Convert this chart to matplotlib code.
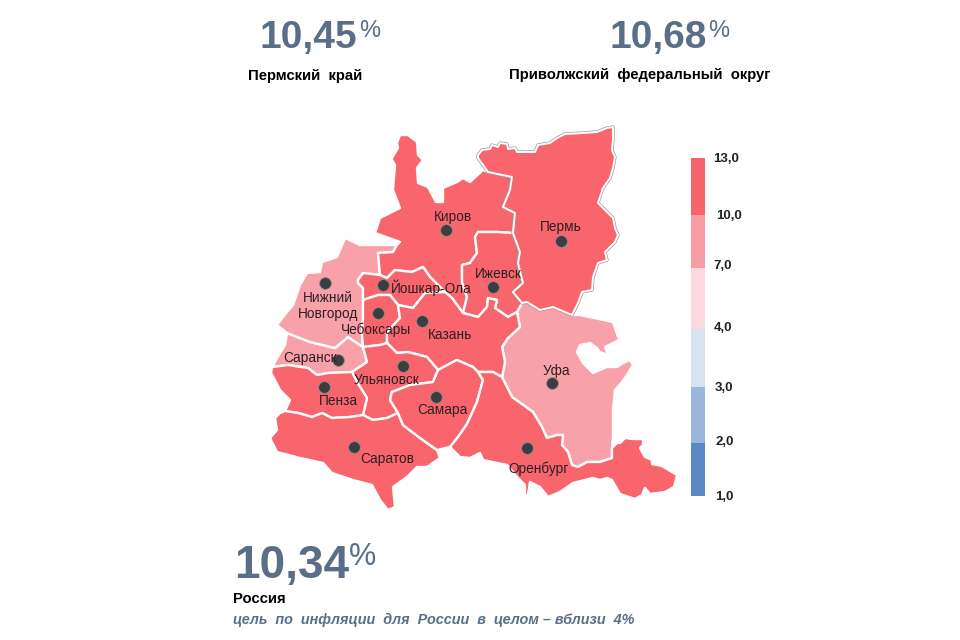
import matplotlib
matplotlib.use("Agg")
import matplotlib.pyplot as plt
from matplotlib.patches import Polygon

plt.rcParams['font.family'] = ['Liberation Sans', 'DejaVu Sans']

# region outlines in pixels; neighbours share their border points
perm = [(478,155),(482,150),(490,149),(492,145),(498,147),(500,143),(507,144),(508,149),(515,148),(517,152),(535,152),(538,145),(550,143),(557,138),(565,134),(583,133),(597,132),(607,128),(613,127),(613,140),(612,150),(615,157),(613,168),(610,178),(603,188),(598,203),(607,212),(613,218),(615,228),(618,235),(615,242),(605,252),(607,260),(598,263),(593,277),(592,290),(582,292),(578,303),(572,315),(553,307),(540,310),(527,302),(522,303),(513,292),(523,283),(518,263),(520,252),(513,233),(515,213),(503,207),(510,190),(512,177),(488,172),(478,158)]
kirov = [(400,135),(408,135),(417,142),(418,155),(423,160),(417,168),(418,183),(428,187),(436,202),(443,202),(443,188),(457,182),(463,178),(470,182),(483,170),(488,172),(512,177),(510,190),(503,207),(515,213),(513,233),(497,232),(478,232),(475,237),(477,253),(470,263),(462,265),(462,282),(467,297),(463,313),(452,298),(445,292),(430,277),(423,267),(412,272),(395,270),(387,278),(380,275),(378,253),(393,252),(397,245),(400,242),(375,233),(380,218),(400,208),(393,190),(395,165),(392,160),(383,160),(392,158),(398,148),(397,143)]
udmurtia = [(478,232),(497,232),(513,233),(520,252),(518,263),(523,283),(513,292),(522,303),(517,312),(508,317),(495,308),(497,300),(488,298),(487,307),(478,317),(463,313),(467,297),(462,282),(462,265),(470,263),(477,253),(475,237)]
mari_el = [(358,280),(363,273),(380,275),(387,278),(395,270),(412,272),(423,267),(430,277),(445,292),(425,293),(413,308),(398,305),(390,295),(378,295),(363,300),(363,288),(358,283)]
chuvashia = [(363,300),(378,295),(390,295),(398,305),(400,318),(387,332),(387,343),(380,345),(363,347),(362,335),(363,318)]
tatarstan = [(400,318),(398,305),(413,308),(425,293),(445,292),(452,298),(463,313),(478,317),(487,307),(488,298),(497,300),(495,308),(508,317),(517,312),(520,327),(508,338),(502,347),(505,362),(502,377),(493,372),(478,372),(473,367),(457,360),(453,362),(438,370),(427,357),(408,352),(397,353),(387,343),(387,332)]
ulyanovsk = [(363,347),(380,345),(387,343),(397,353),(408,352),(427,357),(438,370),(433,382),(410,385),(392,392),(390,400),(398,413),(387,418),(373,420),(363,415),(367,398),(357,382),(352,372),(367,362)]
mordovia = [(287,333),(310,342),(335,348),(348,337),(363,347),(367,362),(352,372),(328,373),(317,375),(308,368),(288,365),(272,367),(280,353),(285,345)]
nizhny = [(345,238),(360,245),(397,245),(393,252),(378,253),(380,275),(363,273),(358,280),(358,283),(363,288),(363,300),(363,318),(362,335),(363,347),(348,337),(335,348),(310,342),(287,333),(277,325),(287,312),(293,305),(300,285),(307,273),(320,272),(322,262),(337,257)]
penza = [(272,367),(288,365),(308,368),(317,375),(328,373),(352,372),(357,382),(367,398),(363,415),(350,417),(332,418),(322,413),(312,417),(298,413),(285,411),(290,400),(280,390),(275,380),(271,373)]
saratov = [(275,418),(280,413),(285,411),(298,413),(312,417),(322,413),(332,418),(350,417),(363,415),(373,420),(387,418),(398,413),(403,425),(420,438),(437,450),(440,458),(427,467),(417,467),(407,477),(393,487),(395,507),(388,510),(380,500),(372,485),(353,480),(332,473),(323,463),(300,458),(277,452),(270,438),(277,430)]
samara = [(392,392),(410,385),(433,382),(438,370),(453,362),(457,360),(473,367),(478,372),(483,380),(477,402),(467,424),(458,437),(450,447),(437,450),(420,438),(403,425),(398,413),(390,400)]
orenburg = [(478,372),(493,372),(502,377),(512,397),(533,412),(542,427),(547,438),(557,435),(563,435),(562,445),(568,452),(572,465),(578,467),(587,462),(600,462),(612,458),(612,448),(617,443),(620,443),(625,438),(633,439),(643,439),(643,445),(640,448),(645,457),(652,460),(652,464),(662,466),(677,475),(674,487),(665,492),(650,494),(645,488),(642,495),(635,499),(620,494),(612,480),(607,478),(600,480),(593,478),(573,483),(560,492),(548,497),(540,487),(530,482),(528,495),(525,495),(525,485),(517,477),(507,465),(483,460),(480,453),(470,458),(460,457),(450,447),(458,437),(467,424),(477,402),(483,380)]
bashkortostan = [(502,347),(508,338),(520,327),(517,312),(522,303),(527,302),(540,310),(553,307),(572,315),(580,315),(613,322),(618,337),(623,337),(615,342),(605,347),(608,355),(600,352),(597,348),(590,343),(580,345),(577,352),(583,363),(593,373),(607,367),(617,367),(623,363),(630,360),(633,365),(627,375),(622,382),(615,390),(613,410),(613,437),(612,448),(612,458),(600,462),(587,462),(578,467),(572,465),(568,452),(562,445),(563,435),(557,435),(547,438),(542,427),(533,412),(512,397),(502,377),(505,362)]

high_regions = [kirov, udmurtia, mari_el, chuvashia, tatarstan, ulyanovsk, penza, saratov, samara, orenburg]
mid_regions = [mordovia, nizhny, bashkortostan]

# cities: name, dot, label centre
city_names = ['Киров', 'Пермь', 'Ижевск', 'Йошкар-Ола', 'Нижний\nНовгород', 'Чебоксары', 'Казань',
              'Саранск', 'Ульяновск', 'Пенза', 'Самара', 'Уфа', 'Саратов', 'Оренбург']
city_dots = [(446,230),(561,241),(493,287),(383,285),(325,283),(378,313),(422,321),
             (338,360),(403,366),(324,387),(436,397),(552,383),(354,447),(527,448)]
city_labels = [(453,217),(561,227),(498,274),(431,288),(328,306),(376,330),(450,335),
               (310,358),(387,380),(338,401),(442,410),(556,371),(387,459),(539,469)]

# legend bar
legend_edges = [158, 215, 268, 329, 387, 443, 496]
legend_colors = ['#f9646c', '#f99ca3', '#fbd9df', '#d8e3f2', '#9ab6da', '#5b88c2']
legend_texts = ['13,0', '10,0', '7,0', '4,0', '3,0', '2,0', '1,0']
legend_text_x = [713, 716, 713, 714, 715, 715, 715]
legend_text_y = [159, 216, 266, 328, 388, 442, 497]

high_color = '#f9656d'
mid_color = '#f8a1a8'
slate = '#5a6f87'

fig = plt.figure(figsize=(9.6, 6.4), dpi=100)
ax = fig.add_axes([0, 0, 1, 1])
ax.set_xlim(0, 960)
ax.set_ylim(640, 0)
ax.axis('off')

for region in mid_regions:
    ax.add_patch(Polygon(region, closed=True, facecolor=mid_color, edgecolor='white', linewidth=1.7, joinstyle='round', zorder=2))
for region in high_regions:
    ax.add_patch(Polygon(region, closed=True, facecolor=high_color, edgecolor='white', linewidth=1.7, joinstyle='round', zorder=3))

# Perm has a grey rim around the white one
ax.add_patch(Polygon(perm, closed=True, facecolor='none', edgecolor='#9a9a9a', linewidth=2.4, joinstyle='round', zorder=4))
ax.add_patch(Polygon(perm, closed=True, facecolor=high_color, edgecolor='white', linewidth=1.4, joinstyle='round', zorder=5))

for name, dot, label in zip(city_names, city_dots, city_labels):
    ax.plot(dot[0], dot[1], 'o', ms=8.5, mfc='#3d3d3f', mec='#8c8c8c', mew=0.6, zorder=6)
    ax.text(label[0], label[1], name, ha='center', va='center', fontsize=9.8, color='#2a2022', linespacing=1.15, zorder=7)

for i, color in enumerate(legend_colors):
    ax.fill_between([691, 705], legend_edges[i], legend_edges[i + 1], color=color, lw=0, zorder=2)
for text, x, y in zip(legend_texts, legend_text_x, legend_text_y):
    ax.text(x, y, text, ha='left', va='center', fontsize=9.5, fontweight='bold', color='#222222')

# headline numbers
ax.text(260, 48, '10,45', ha='left', va='baseline', fontsize=28, fontweight='bold', color=slate)
ax.text(359, 37, '%', ha='left', va='baseline', fontsize=17, color=slate)
ax.text(609, 48, '10,68', ha='left', va='baseline', fontsize=28, fontweight='bold', color=slate)
ax.text(708, 37, '%', ha='left', va='baseline', fontsize=17, color=slate)
ax.text(234, 578, '10,34', ha='left', va='baseline', fontsize=33, fontweight='bold', color=slate)
ax.text(349, 565, '%', ha='left', va='baseline', fontsize=22, color=slate)

ax.text(305, 76, 'Пермский  край', ha='center', va='center', fontsize=10.7, fontweight='bold', color='black')
ax.text(640, 75, 'Приволжский  федеральный  округ', ha='center', va='center', fontsize=10.7, fontweight='bold', color='black')
ax.text(233, 599, 'Россия', ha='left', va='center', fontsize=10.7, fontweight='bold', color='black')
ax.text(233, 620, 'цель  по  инфляции  для  России  в  целом – вблизи  4%', ha='left', va='center',
        fontsize=10.4, fontweight='bold', fontstyle='italic', color=slate)

fig.savefig('out.png', dpi=100)
